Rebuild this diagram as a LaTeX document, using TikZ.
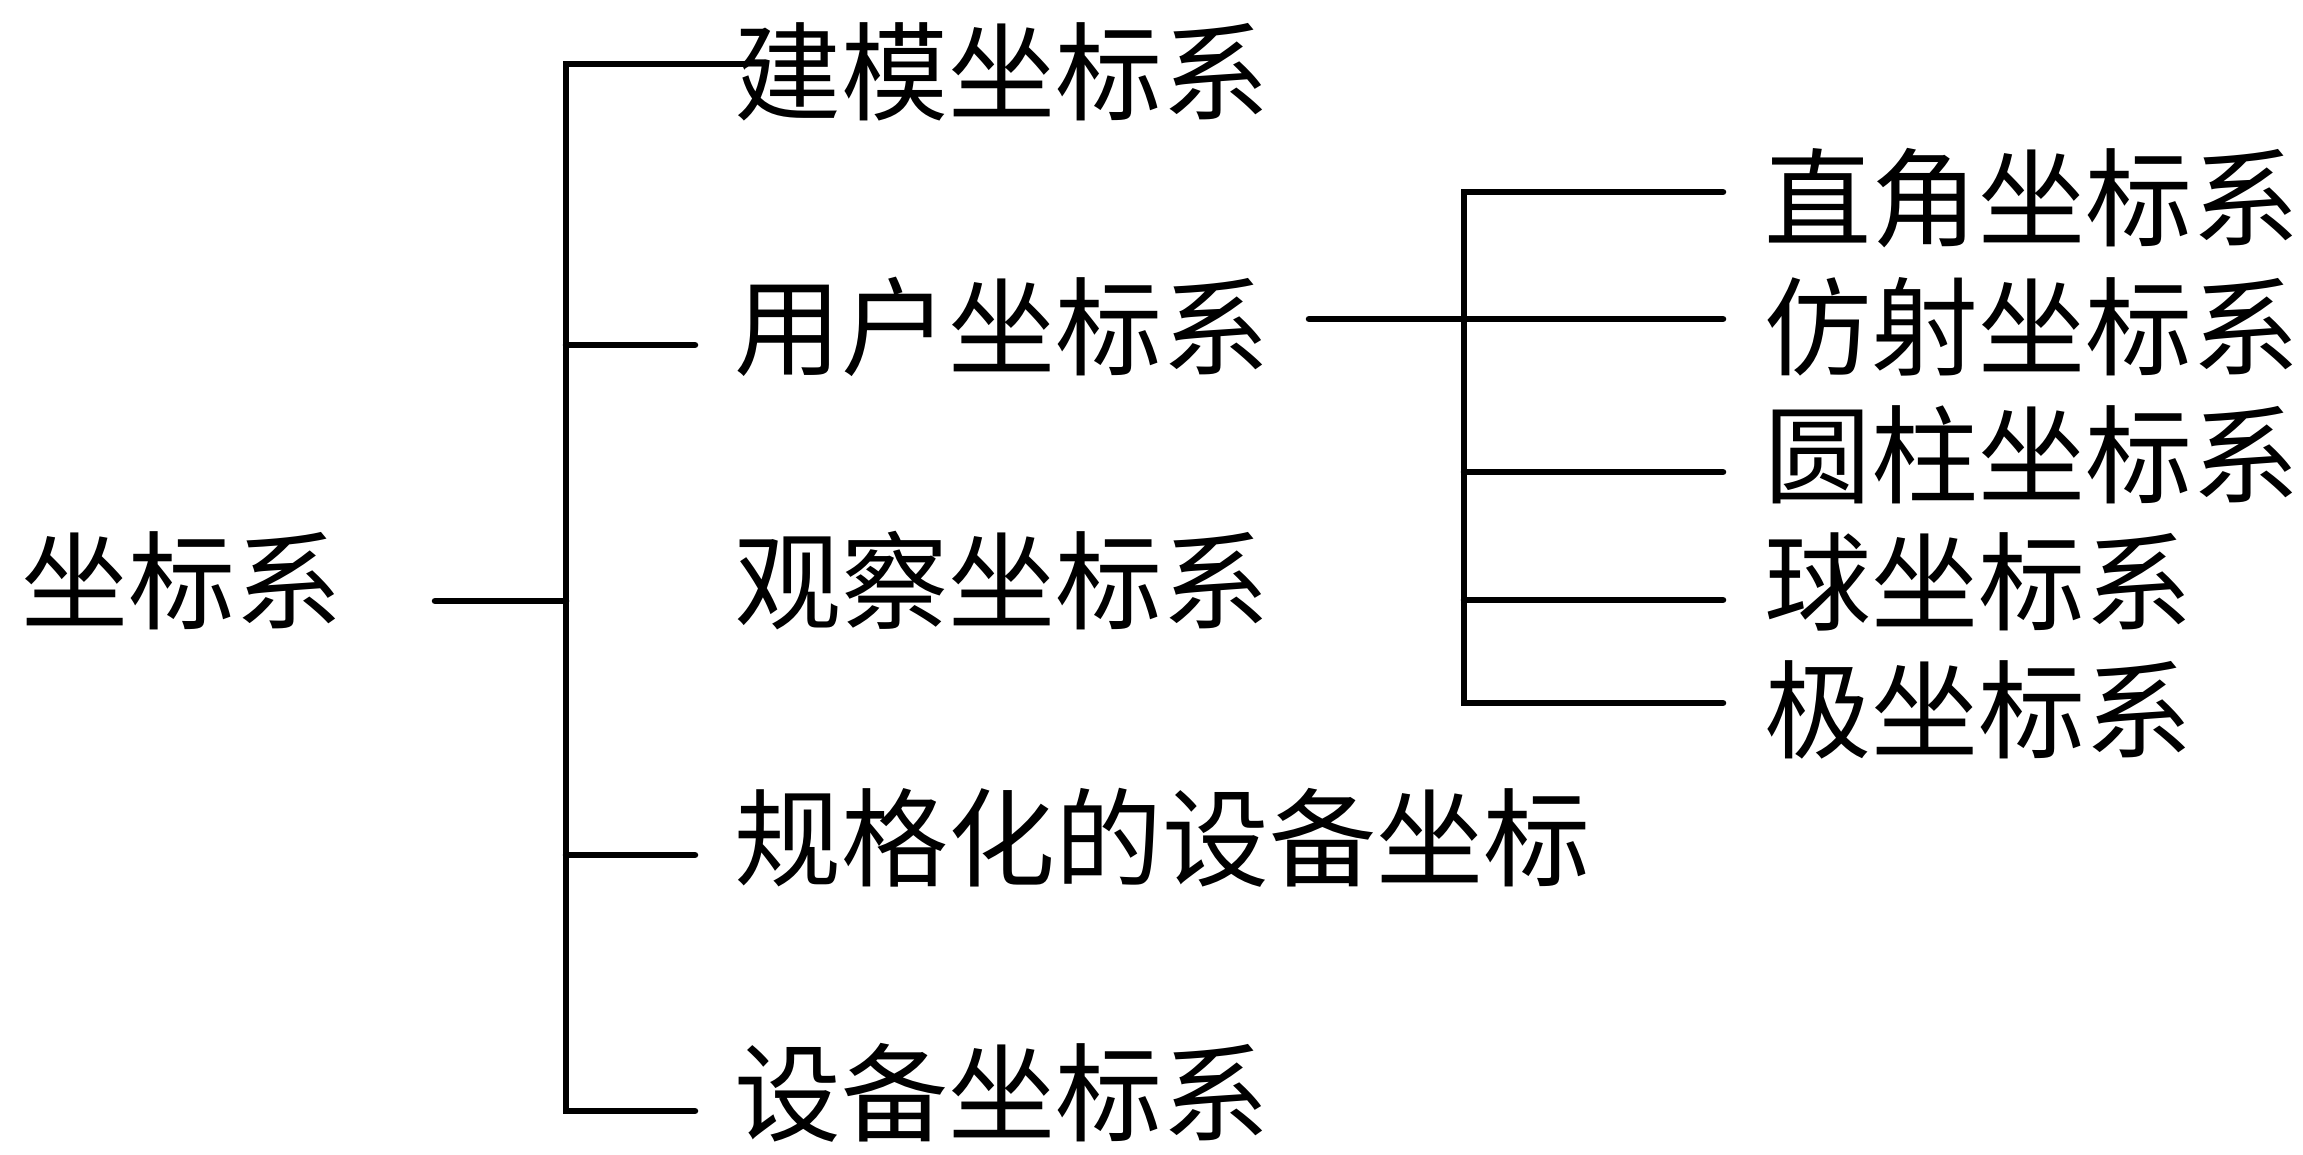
\documentclass[tikz,border=0pt]{standalone}
\usepackage{fontspec}
\newfontfamily\cjk{Noto Sans CJK SC}
\begin{document}
\begin{tikzpicture}[x=1pt,y=-1pt,
  conn/.style={line width=6.5pt,line cap=round,line join=miter},
  lbl/.style={font=\cjk\fontsize{107}{110}\selectfont,anchor=base west,inner sep=0pt}]
\useasboundingbox (0,0) rectangle (2303,1155);
% labels
\node[lbl] (root) at (21,621) {坐标系};
\node[lbl] (a1) at (734,113) {建模坐标系};
\node[lbl] (a2) at (734,368) {用户坐标系};
\node[lbl] (a3) at (734,621) {观察坐标系};
\node[lbl] (a4) at (734,878) {规格化的设备坐标};
\node[lbl] (a5) at (734,1133) {设备坐标系};
\node[lbl] (b1) at (1764,239) {直角坐标系};
\node[lbl] (b2) at (1764,368) {仿射坐标系};
\node[lbl] (b3) at (1764,495) {圆柱坐标系};
\node[lbl] (b4) at (1764,622) {球坐标系};
\node[lbl] (b5) at (1764,750) {极坐标系};
% junction coordinates
\coordinate (r0) at (435,601);
\coordinate (j0) at (566,601);
\coordinate (jt) at (566,64);
\coordinate (jb) at (566,1111);
\coordinate (e1) at (746,64);
\coordinate (j2) at (566,345);
\coordinate (e2) at (695,345);
\coordinate (j4) at (566,855);
\coordinate (e4) at (695,855);
\coordinate (e5) at (695,1111);
\coordinate (s0) at (1309,319);
\coordinate (k2) at (1464,319);
\coordinate (kt) at (1464,192);
\coordinate (kb) at (1464,703);
\coordinate (f1) at (1723,192);
\coordinate (f2) at (1723,319);
\coordinate (k3) at (1464,472);
\coordinate (f3) at (1723,472);
\coordinate (k4) at (1464,600);
\coordinate (f4) at (1723,600);
\coordinate (f5) at (1723,703);
% connectors
\draw[conn] (r0) -- (j0);
\draw[conn] (e1) -- (jt) -- (jb) -- (e5);
\draw[conn] (j2) -- (e2);
\draw[conn] (j4) -- (e4);
\draw[conn] (s0) -- (f2);
\draw[conn] (f1) -- (kt) -- (kb) -- (f5);
\draw[conn] (k3) -- (f3);
\draw[conn] (k4) -- (f4);
\end{tikzpicture}
\end{document}
